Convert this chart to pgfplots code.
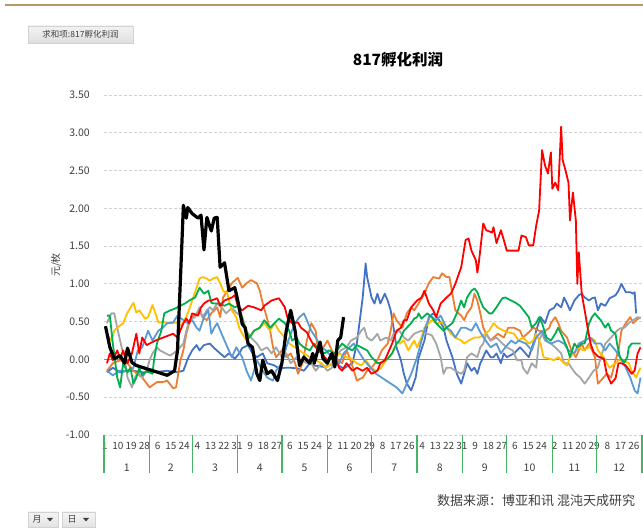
\documentclass[border=0pt]{standalone}
\usepackage{pgfplots}
\pgfplotsset{compat=1.18}
\usepackage{fontspec}
\setmainfont{Noto Sans CJK SC}
\definecolor{cblue}{HTML}{4472C4}
\definecolor{corange}{HTML}{ED7D31}
\definecolor{cgray}{HTML}{A5A5A5}
\definecolor{cyellow}{HTML}{FFC000}
\definecolor{clblue}{HTML}{5B9BD5}
\definecolor{cgreen}{HTML}{00B050}
\definecolor{cred}{HTML}{FF0000}
\definecolor{axgreen}{RGB}{70,180,100}
\definecolor{gold}{RGB}{181,152,104}
\definecolor{txt}{HTML}{404040}
\begin{document}
\begin{tikzpicture}[x=1pt,y=1pt]
\useasboundingbox (0,0) rectangle (643,530);
\fill[white] (0,0) rectangle (643,530);
\draw[line width=2.5pt, gold] (5,525) -- (643,525);
% pivot button
\shade[top color=white!90!gray, bottom color=white!75!gray] (28,487) rectangle (133,504);
\draw[white!65!gray] (28,487) rectangle (133,504);
\node[text=txt] at (80.5,495.5) {\fontsize{8.5}{10}\selectfont 求和项:817孵化利润};
% title
\node[text=black] at (398,470) {\fontsize{15.5}{18}\selectfont\bfseries 817孵化利润};
% y label
\node[rotate=90, text=txt] at (56,265) {\fontsize{10}{12}\selectfont 元/枚};
% source
\node[anchor=west, text=txt, inner sep=0pt] at (437,29) {\fontsize{13}{15}\selectfont 数据来源：博亚和讯\ 混沌天成研究};
% bottom buttons
\shade[top color=white!92!gray, bottom color=white!78!gray] (28,3) rectangle (58,18);
\draw[white!65!gray] (28,3) rectangle (58,18);
\node[text=txt] at (37,10.5) {\fontsize{9}{10}\selectfont 月};
\fill[txt] (47,12) -- (53,12) -- (50,8.5) -- cycle;
\shade[top color=white!92!gray, bottom color=white!78!gray] (62,3) rectangle (95,18);
\draw[white!65!gray] (62,3) rectangle (95,18);
\node[text=txt] at (72,10.5) {\fontsize{9}{10}\selectfont 日};
\fill[txt] (83,12) -- (89,12) -- (86,8.5) -- cycle;
\begin{axis}[
  at={(104pt,95pt)}, anchor=south west, scale only axis,
  width=538pt, height=340pt,
  xmin=0, xmax=366, ymin=-1, ymax=3.5,
  axis line style={draw=none},
  major tick length=0pt,
  /pgf/number format/assume math mode=true,
  ytick={-1,-0.5,0,0.5,1,1.5,2,2.5,3,3.5},
  yticklabel style={/pgf/number format/fixed, /pgf/number format/fixed zerofill, /pgf/number format/precision=2},
  yticklabel style={font=\fontsize{10.5}{12}\selectfont, text=txt, anchor=east, inner sep=0pt, xshift=-14pt},
  xtick={0.5,9.5,...,360.5},
  xticklabels={1,10,19,28,6,15,24,4,13,22,31,9,18,27,6,15,24,2,11,20,29,8,17,26,4,13,22,31,9,18,27,6,15,24,2,11,20,29,8,17,26},
  xticklabel style={font=\fontsize{10}{12}\selectfont, text=txt, anchor=north, inner sep=0pt, yshift=-7pt},
  ymajorgrids,
  major grid style={draw=white!82!black, dashed, dash pattern=on 3pt off 2pt, line width=0.8pt},
  every axis plot/.append style={line width=1.8pt, line join=round, no markers},
  clip mode=individual,
]
\addplot[axgreen, line width=1.2pt, forget plot] coordinates {(0,0) (366,0)};
% dark blue
\addplot[cblue] coordinates {(2,-0.17)(6,-0.11)(11,-0.17)(16,-0.15)(20,-0.15)(26,-0.17)(33,-0.17)(43,-0.15)(49,-0.17)(54,-0.15)(57,0.01)(60,0.12)(63,0.19)(65,0.12)(68,0.19)(72,0.21)(75,0.15)(79,0.08)(82,0.03)(85,0.08)(89,0.01)(92,0.08)(94,0.15)(98,0.19)(101,0.08)(104,0.03)(108,0.08)(111,-0.05)(116,-0.08)(119,-0.12)(123,-0.11)(127,-0.11)(132,-0.12)(136,-0.15)(140,-0.05)(143,-0.08)(150,-0.10)(157,-0.05)(163,-0.12)(169,-0.05)(172,0.21)(176,0.82)(178,1.27)(179,1.09)(182,0.82)(184,0.74)(186,0.87)(188,0.74)(191,0.87)(193,0.78)(195,0.65)(197,0.42)(199,0.16)(202,-0.01)(204,-0.19)(206,-0.32)(209,-0.41)(212,-0.24)(214,0.02)(218,0.25)(221,0.56)(224,0.61)(228,0.52)(231,0.42)(233,0.25)(237,0.03)(240,-0.19)(243,-0.32)(245,-0.19)(247,-0.05)(250,-0.15)(252,-0.11)(254,-0.19)(256,-0.05)(258,0.03)(260,0.12)(263,0.03)(265,0.03)(267,0.08)(270,-0.05)(272,0.08)(274,0.03)(279,0.08)(283,0.16)(285,0.12)(289,0.03)(292,0.21)(294,0.38)(297,0.56)(300,0.48)(303,0.65)(306,0.68)(308,0.74)(311,0.69)(313,0.82)(315,0.74)(317,0.65)(320,0.78)(323,0.85)(325,0.87)(327,0.82)(330,0.78)(332,0.81)(334,0.82)(336,0.65)(338,0.74)(341,0.71)(344,0.81)(348,0.85)(350,0.91)(352,1.0)(355,0.89)(358,0.89)(360,0.87)(361,0.89)(362,0.61)};
% orange
\addplot[corange] coordinates {(2,-0.15)(6,-0.05)(11,-0.01)(16,-0.05)(20,-0.15)(26,-0.24)(31,-0.37)(36,-0.30)(40,-0.30)(43,-0.28)(47,-0.38)(49,-0.37)(52,-0.01)(54,0.12)(56,0.34)(58,0.48)(60,0.56)(63,0.61)(65,0.65)(67,0.56)(70,0.52)(73,0.61)(77,0.69)(79,0.56)(81,0.82)(84,0.91)(87,1.01)(91,1.08)(94,0.95)(97,1.01)(100,1.05)(104,1.01)(106,0.91)(108,0.74)(111,0.54)(113,0.38)(115,0.16)(117,0.03)(121,0.12)(124,0.03)(127,0.08)(130,-0.05)(132,-0.19)(135,-0.05)(138,0.25)(141,0.48)(144,0.38)(145,0.21)(148,0.12)(152,0.25)(155,0.12)(159,-0.01)(162,-0.05)(165,0.12)(167,0.03)(170,-0.15)(172,-0.28)(176,-0.24)(179,-0.15)(182,-0.11)(186,-0.01)(189,0.12)(193,0.21)(195,0.38)(197,0.61)(199,0.52)(203,0.42)(206,0.61)(209,0.69)(211,0.65)(214,0.74)(218,0.87)(221,1.01)(224,1.09)(228,1.07)(230,1.14)(233,1.09)(235,1.09)(237,0.87)(239,0.65)(243,0.58)(245,0.52)(247,0.61)(250,0.69)(252,0.87)(254,0.78)(256,0.61)(258,0.42)(260,0.34)(263,0.25)(265,0.29)(268,0.34)(272,0.29)(275,0.42)(279,0.42)(283,0.38)(285,0.29)(289,0.36)(292,0.42)(296,0.38)(299,0.36)(303,0.42)(304,0.48)(307,0.56)(309,0.48)(311,0.38)(315,0.29)(318,0.12)(321,0.03)(325,0.21)(327,0.12)(330,0.21)(332,0.12)(334,0.03)(336,-0.32)(338,-0.28)(342,-0.19)(345,-0.24)(348,-0.01)(350,0.12)(352,0.38)(355,0.48)(358,0.56)(360,0.48)(362,0.52)(365,0.56)};
% gray
\addplot[cgray] coordinates {(2,0.48)(5,0.61)(7,0.61)(9,0.42)(12,0.16)(14,0.03)(16,-0.24)(19,-0.37)(21,-0.24)(23,-0.17)(26,-0.24)(29,-0.15)(31,-0.01)(33,0.08)(36,0.16)(38,0.12)(45,0.05)(50,0.12)(54,0.21)(56,0.38)(58,0.52)(62,0.56)(65,0.69)(67,0.56)(70,0.65)(72,0.69)(74,0.65)(77,0.74)(80,0.69)(83,0.61)(87,0.68)(90,0.62)(94,0.56)(97,0.38)(100,0.29)(104,0.21)(107,0.12)(111,0.16)(114,0.08)(117,0.16)(121,0.03)(124,0.08)(127,-0.05)(131,0.03)(134,-0.01)(138,-0.05)(141,-0.05)(144,-0.15)(148,-0.05)(152,-0.15)(155,-0.11)(158,0.03)(161,0.12)(165,0.16)(168,0.25)(172,0.29)(175,0.38)(177,0.42)(179,0.29)(182,0.25)(184,0.29)(186,0.34)(188,0.25)(192,0.29)(195,0.25)(197,0.34)(201,0.38)(204,0.29)(207,0.25)(211,0.34)(216,0.38)(220,0.34)(223,0.32)(226,0.21)(229,0.03)(231,-0.19)(233,-0.11)(236,-0.11)(239,-0.15)(243,-0.19)(245,-0.15)(247,0.03)(250,0.08)(254,0.03)(256,0.16)(258,0.21)(260,0.34)(263,0.25)(267,0.29)(271,0.21)(274,0.16)(278,0.12)(281,-0.01)(284,-0.01)(285,-0.11)(288,-0.19)(291,-0.05)(294,-0.11)(296,0.25)(298,0.34)(300,0.25)(304,0.21)(307,0.16)(311,0.08)(313,-0.05)(316,-0.05)(318,-0.11)(321,-0.19)(324,-0.24)(327,-0.32)(330,-0.24)(333,-0.15)(336,-0.11)(338,0.03)(341,0.21)(343,0.25)(345,0.29)(349,0.38)(351,0.41)(354,0.42)(357,0.48)(360,0.52)(363,0.56)(365,0.54)};
% yellow
\addplot[cyellow] coordinates {(2,0.34)(5,0.25)(7,0.38)(9,0.42)(13,0.48)(16,0.62)(20,0.75)(22,0.62)(24,0.65)(28,0.54)(30,0.56)(33,0.72)(35,0.61)(37,0.49)(41,0.49)(46,0.48)(49,0.49)(52,0.45)(54,0.49)(57,0.61)(60,0.78)(63,0.95)(65,1.07)(67,1.09)(70,1.07)(72,1.04)(74,1.07)(77,1.09)(79,1.01)(81,0.91)(84,0.87)(85,0.78)(87,0.65)(90,0.56)(92,0.42)(94,0.34)(97,0.25)(99,0.29)(102,0.38)(106,0.42)(109,0.48)(113,0.38)(116,0.48)(119,0.38)(123,0.29)(126,0.21)(130,0.16)(133,0.12)(136,0.08)(140,0.03)(142,-0.01)(144,-0.01)(148,-0.05)(151,-0.11)(155,-0.05)(157,0.03)(160,0.08)(165,0.03)(168,0.01)(172,-0.05)(175,-0.08)(178,-0.01)(182,-0.11)(185,-0.15)(188,-0.12)(192,-0.01)(194,0.03)(196,0.08)(199,0.21)(201,0.21)(204,0.25)(207,0.12)(211,0.25)(213,0.16)(216,0.29)(218,0.42)(221,0.48)(223,0.52)(226,0.48)(230,0.49)(233,0.42)(236,0.34)(239,0.29)(243,0.25)(245,0.21)(248,0.25)(252,0.29)(255,0.29)(258,0.32)(262,0.38)(265,0.48)(268,0.42)(272,0.38)(275,0.36)(279,0.34)(282,0.25)(285,0.29)(289,0.21)(292,0.25)(294,0.34)(297,0.21)(299,0.03)(303,0.01)(306,-0.01)(309,0.03)(313,-0.05)(315,-0.08)(317,0.03)(320,0.09)(323,0.16)(326,0.12)(330,0.16)(332,0.28)(334,0.25)(336,0.12)(340,0.03)(342,-0.05)(344,-0.11)(348,-0.05)(350,-0.01)(353,-0.01)(357,-0.05)(359,-0.15)(362,-0.24)(363,-0.19)(365,-0.11)};
% light blue
\addplot[clblue] coordinates {(2,-0.15)(6,-0.21)(11,-0.15)(16,-0.15)(20,-0.11)(23,0.12)(26,0.16)(30,0.38)(33,0.25)(37,0.38)(40,0.42)(43,0.48)(47,0.49)(50,0.58)(54,0.52)(57,0.48)(60,0.52)(63,0.42)(65,0.38)(68,0.56)(71,0.65)(73,0.34)(75,0.42)(77,0.48)(80,0.34)(82,0.25)(84,0.16)(87,0.03)(90,0.16)(94,0.03)(97,-0.15)(100,-0.28)(102,-0.15)(104,-0.01)(108,-0.15)(111,-0.24)(115,-0.28)(117,-0.15)(121,-0.05)(124,0.16)(127,0.34)(130,0.48)(133,0.56)(136,0.61)(138,0.52)(141,0.38)(144,0.29)(148,0.16)(151,0.12)(155,0.03)(160,-0.05)(163,0.08)(167,0.16)(170,0.21)(174,0.08)(177,-0.01)(180,-0.08)(185,-0.19)(192,-0.28)(199,-0.37)(203,-0.45)(206,-0.32)(209,-0.19)(213,0.03)(216,0.25)(219,0.45)(222,0.58)(226,0.52)(229,0.58)(233,0.42)(236,0.38)(239,0.29)(243,0.42)(246,0.42)(250,0.38)(253,0.48)(256,0.36)(260,0.24)(263,0.16)(267,0.21)(270,0.08)(273,0.16)(277,0.25)(280,0.21)(282,0.25)(287,0.21)(291,0.12)(294,0.29)(298,0.38)(301,0.25)(304,0.21)(309,0.25)(313,0.21)(316,0.12)(320,0.08)(323,0.21)(327,0.25)(331,0.29)(334,0.21)(338,0.21)(341,0.12)(344,0.21)(348,0.12)(351,0.03)(355,-0.11)(358,-0.24)(361,-0.41)(363,-0.45)(365,-0.24)};
% green
\addplot[cgreen] coordinates {(2,0.58)(4,0.58)(6,0.21)(9,-0.24)(11,-0.37)(13,-0.05)(16,-0.17)(18,-0.11)(20,-0.32)(22,-0.24)(24,-0.11)(26,-0.21)(29,-0.15)(33,-0.19)(34,-0.01)(36,0.21)(39,0.38)(41,0.61)(45,0.65)(48,0.67)(52,0.71)(55,0.74)(58,0.78)(62,0.82)(65,0.95)(68,0.87)(71,0.91)(73,0.75)(75,0.74)(79,0.74)(82,0.71)(85,0.74)(89,0.69)(91,0.71)(94,0.56)(96,0.38)(99,0.29)(102,0.38)(106,0.42)(109,0.52)(113,0.42)(116,0.48)(119,0.54)(123,0.48)(126,0.38)(128,0.25)(131,0.29)(133,0.21)(136,0.16)(140,0.12)(143,0.21)(147,0.12)(150,0.08)(153,0.12)(157,0.08)(160,0.16)(162,0.21)(165,0.16)(169,0.12)(172,0.19)(176,0.15)(179,0.12)(182,0.03)(186,-0.05)(189,-0.04)(193,0.01)(196,0.08)(199,0.21)(201,0.25)(204,0.38)(206,0.42)(209,0.48)(211,0.54)(213,0.56)(214,0.61)(216,0.54)(220,0.61)(223,0.56)(226,0.48)(229,0.42)(231,0.38)(233,0.42)(237,0.48)(240,0.61)(243,0.78)(245,0.69)(247,0.82)(250,0.91)(252,0.94)(254,0.89)(256,0.78)(258,0.69)(262,0.61)(264,0.61)(267,0.69)(271,0.81)(273,0.82)(277,0.78)(280,0.75)(283,0.71)(287,0.61)(289,0.56)(291,0.42)(294,0.48)(296,0.56)(298,0.48)(301,0.29)(304,0.25)(307,0.34)(309,0.42)(313,0.25)(315,0.16)(317,0.03)(320,0.21)(322,0.16)(325,0.21)(327,0.21)(330,0.48)(332,0.56)(334,0.61)(336,0.56)(338,0.52)(341,0.42)(343,0.48)(345,0.38)(348,0.34)(349,0.21)(351,0.03)(354,-0.04)(356,0.03)(357,0.16)(359,0.21)(362,0.21)(365,0.21)};
% red
\addplot[cred] coordinates {(2,-0.05)(4,0.08)(6,-0.01)(9,0.12)(11,0.01)(13,0.12)(16,-0.05)(19,0.08)(22,0.34)(24,0.08)(26,0.29)(29,0.19)(35,0.25)(47,0.34)(50,0.29)(54,0.48)(56,0.54)(58,0.48)(60,0.61)(64,0.58)(66,0.69)(68,0.74)(71,0.78)(73,0.78)(77,0.81)(79,0.71)(82,0.78)(87,0.82)(89,0.85)(91,0.71)(94,0.65)(98,0.71)(102,0.69)(107,0.65)(109,0.71)(114,0.78)(119,0.81)(123,0.69)(125,0.54)(128,0.48)(132,0.49)(134,0.42)(138,0.36)(140,0.28)(142,0.21)(144,0.16)(148,0.08)(152,-0.01)(157,0.03)(160,-0.11)(162,-0.15)(165,-0.05)(169,-0.15)(172,-0.11)(176,-0.15)(179,-0.11)(182,-0.19)(186,-0.15)(188,-0.05)(191,-0.01)(194,0.12)(196,0.21)(199,0.38)(202,0.42)(204,0.52)(206,0.52)(209,0.69)(213,0.78)(216,0.82)(218,0.91)(221,0.74)(224,0.65)(226,0.56)(229,0.74)(233,0.82)(236,0.87)(239,1.0)(243,1.22)(246,1.58)(248,1.60)(250,1.44)(253,1.31)(254,1.15)(255,1.28)(258,1.80)(260,1.71)(264,1.68)(265,1.75)(267,1.54)(270,1.71)(272,1.58)(274,1.44)(279,1.44)(282,1.44)(284,1.64)(287,1.62)(289,1.51)(292,1.51)(294,1.77)(296,1.97)(298,2.77)(300,2.57)(302,2.46)(304,2.74)(305,2.26)(307,2.34)(309,2.24)(311,3.08)(312,2.64)(314,2.50)(316,2.34)(317,1.84)(319,2.21)(321,1.84)(322,1.00)(323,1.42)(325,0.87)(327,0.65)(329,0.42)(331,0.21)(333,0.10)(336,0.04)(340,0.01)(342,-0.19)(345,-0.32)(348,-0.25)(350,-0.05)(352,-0.05)(355,-0.08)(359,-0.19)(361,-0.15)(363,0.08)(365,0.16)};
% black
\addplot[black, line width=3.2pt] coordinates {(1,0.44)(4,0.16)(7,0.01)(11,0.05)(14,-0.05)(16,0.15)(19,-0.04)(22,-0.08)(43,-0.21)(48,-0.15)(50,0.12)(53,1.54)(54,2.04)(56,1.87)(57,2.01)(60,1.93)(64,1.87)(66,1.91)(68,1.45)(70,1.88)(73,1.70)(75,1.87)(77,1.88)(79,1.22)(82,1.28)(85,0.91)(89,0.95)(91,0.78)(94,0.47)(96,0.42)(98,0.21)(101,0.16)(104,-0.19)(106,-0.28)(108,-0.01)(111,-0.19)(114,-0.15)(118,-0.28)(121,-0.05)(124,0.38)(127,0.65)(130,0.38)(133,-0.08)(136,0.03)(140,-0.05)(142,0.08)(143,-0.05)(147,0.23)(149,0.01)(152,-0.05)(155,0.08)(157,-0.10)(159,0.25)(161,0.29)(163,0.56)};
% month separators and labels
\foreach \b in {0,31,60,91,121,152,182,213,244,274,305,335,366}
  {\edef\temp{\noexpand\draw[axgreen, line width=1.3pt] (axis cs:\b,-1) -- ++(0pt,-38pt);}\temp}
\foreach \m/\c in {1/15.5,2/45.5,3/75.5,4/106,5/136.5,6/167,7/197.5,8/228.5,9/259,10/289.5,11/320,12/350.5}
  {\edef\temp{\noexpand\node[text=txt, font=\noexpand\fontsize{10.5}{12}\noexpand\selectfont] at (axis cs:\c,-1) [yshift=-33pt] {\m};}\temp}
\end{axis}
\end{tikzpicture}
\end{document}
